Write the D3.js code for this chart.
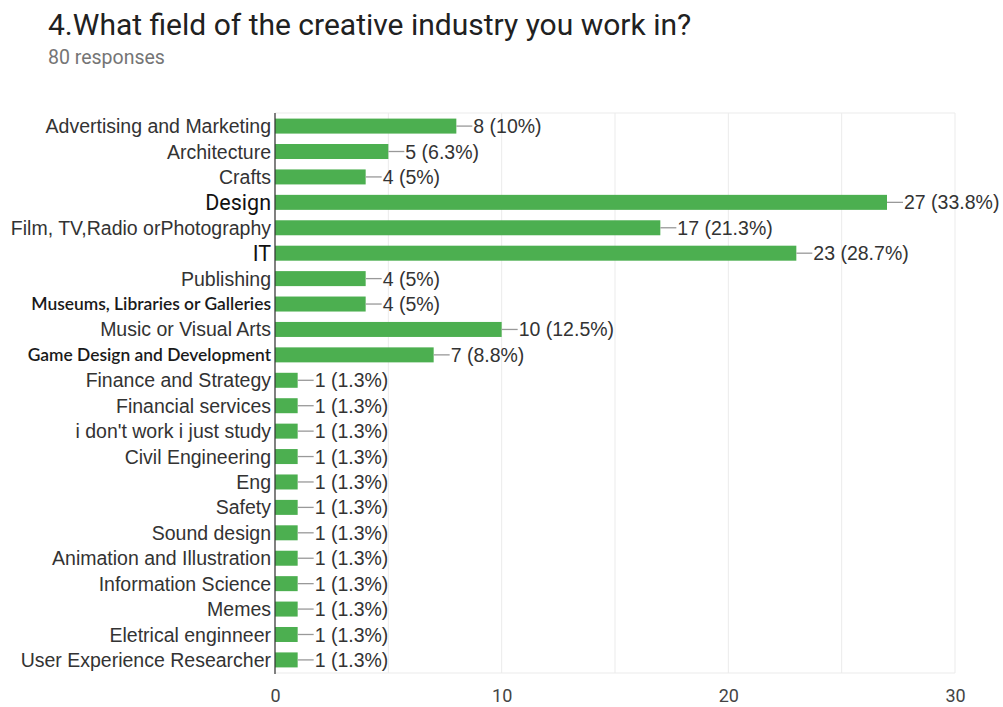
<!DOCTYPE html>
<html>
<head>
<meta charset="utf-8">
<script src="https://cdn.jsdelivr.net/npm/d3@7"></script>
<style>
  body { margin: 0; background: #fff; }
  svg { display: block; }
</style>
</head>
<body>
<svg id="chart"></svg>
<script>
const categories = [
  'Advertising and Marketing', 'Architecture', 'Crafts', 'Design',
  'Film, TV,Radio orPhotography', 'IT', 'Publishing',
  'Museums, Libraries or Galleries', 'Music or Visual Arts',
  'Game Design and Development', 'Finance and Strategy', 'Financial services',
  "i don't work i just study", 'Civil Engineering', 'Eng', 'Safety',
  'Sound design', 'Animation and Illustration', 'Information Science',
  'Memes', 'Eletrical enginneer', 'User Experience Researcher'
]
const counts = [8, 5, 4, 27, 17, 23, 4, 4, 10, 7, 1, 1, 1, 1, 1, 1, 1, 1, 1, 1, 1, 1]
const percents = ['10%', '6.3%', '5%', '33.8%', '21.3%', '28.7%', '5%', '5%', '12.5%', '8.8%',
  '1.3%', '1.3%', '1.3%', '1.3%', '1.3%', '1.3%', '1.3%', '1.3%', '1.3%', '1.3%', '1.3%', '1.3%']
const xTicks = [0, 10, 20, 30]
const gridTicks = [0, 5, 10, 15, 20, 25, 30]

let width = 1003
let height = 707
let plotLeft = 275, plotRight = 955, plotTop = 113, plotBottom = 673

let data = categories.map((c, i) => ({ name: c, count: counts[i], pct: percents[i] }))

let svg = d3.select('#chart')
  .attr('width', width)
  .attr('height', height)

/* Title and subtitle */
svg.append('text')
  .attr('x', 48).attr('y', 35)
  .style('font-family', 'Roboto')
  .style('font-size', '30px')
  .style('fill', '#212121')
  .text('4.What field of the creative industry you work in?')

svg.append('text')
  .attr('x', 48).attr('y', 64)
  .style('font-family', 'Roboto')
  .style('font-size', '19.5px')
  .style('fill', '#757575')
  .text('80 responses')

let xScale = d3.scaleLinear().domain([0, 30]).range([plotLeft, plotRight])
let yScale = d3.scaleBand().domain(categories).range([plotTop, plotBottom]).paddingInner(0.41).paddingOuter(0.22)

/* Gridlines */
svg.append('g')
  .selectAll('line')
  .data(gridTicks)
  .enter()
  .append('line')
    .attr('x1', d => xScale(d)).attr('x2', d => xScale(d))
    .attr('y1', plotTop).attr('y2', plotBottom)
    .attr('stroke', '#ebebeb')
    .attr('stroke-width', 1)

svg.append('line')
  .attr('x1', plotLeft).attr('x2', plotRight)
  .attr('y1', plotTop).attr('y2', plotTop)
  .attr('stroke', '#ebebeb')
svg.append('line')
  .attr('x1', plotLeft).attr('x2', plotRight)
  .attr('y1', plotBottom).attr('y2', plotBottom)
  .attr('stroke', '#ebebeb')

/* x-axis tick labels */
let xAxis = d3.axisBottom(xScale).tickValues(xTicks).tickSize(0).tickPadding(16)
let gx = svg.append('g')
  .attr('transform', `translate(0, ${plotBottom})`)
  .call(xAxis)
gx.select('.domain').remove()
gx.selectAll('text')
  .style('font-family', 'Roboto')
  .style('font-size', '18px')
  .style('fill', '#444')

/* Bars */
svg.append('g')
  .selectAll('rect')
  .data(data)
  .enter()
  .append('rect')
    .attr('x', xScale(0))
    .attr('y', d => yScale(d.name))
    .attr('width', d => xScale(d.count) - xScale(0))
    .attr('height', yScale.bandwidth())
    .attr('fill', '#4caf50')

/* Baseline */
svg.append('line')
  .attr('x1', plotLeft).attr('x2', plotLeft)
  .attr('y1', plotTop).attr('y2', plotBottom + 1)
  .attr('stroke', '#333')
  .attr('stroke-width', 1.2)

/* Value connectors and labels */
let labels = svg.append('g')
  .selectAll('g')
  .data(data)
  .enter()
  .append('g')
    .attr('transform', d => `translate(${xScale(d.count)}, ${yScale(d.name) + yScale.bandwidth() / 2})`)

labels.append('line')
  .attr('x1', 0).attr('x2', 16)
  .attr('y1', 0).attr('y2', 0)
  .attr('stroke', '#999')
  .attr('stroke-width', 1.3)

labels.append('text')
  .attr('x', 17)
  .attr('dy', '0.36em')
  .style('font-family', 'Liberation Sans, Arial')
  .style('font-size', '19.5px')
  .style('fill', '#333')
  .text(d => `${d.count} (${d.pct})`)

/* Category labels with their odd font mix */
function labelStyle(name) {
  if (name === 'Design' || name === 'IT') return { font: 'Roboto', size: '21.5px', fill: '#111' }
  if (name.startsWith('Museums') || name.startsWith('Game Design')) return { font: 'Lato', size: '17.4px', fill: '#1a1a1a', weight: 600 }
  return { font: 'Liberation Sans, Arial', size: '19.5px', fill: '#333' }
}

svg.append('g')
  .selectAll('text')
  .data(data)
  .enter()
  .append('text')
    .attr('x', plotLeft - 4)
    .attr('y', d => yScale(d.name) + yScale.bandwidth() / 2)
    .attr('dy', '0.36em')
    .style('text-anchor', 'end')
    .style('font-family', d => labelStyle(d.name).font)
    .style('font-size', d => labelStyle(d.name).size)
    .style('font-weight', d => labelStyle(d.name).weight || 400)
    .style('fill', d => labelStyle(d.name).fill)
    .text(d => d.name)
</script>
</body>
</html>
